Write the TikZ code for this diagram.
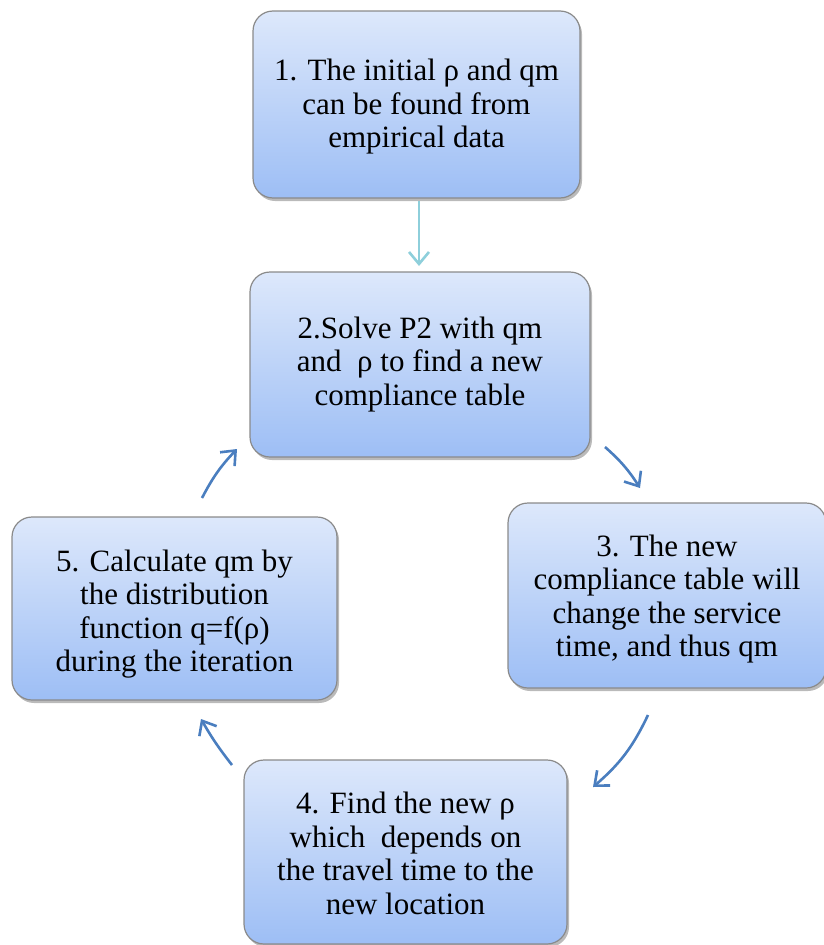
\documentclass[tikz,border=0pt]{standalone}
\usepackage{fontspec}
\setmainfont{Liberation Serif}
\newfontfamily\timesfont{Liberation Serif}
\usetikzlibrary{arrows.meta,shadows}
\definecolor{boxtop}{HTML}{DDE8FB}
\definecolor{boxbot}{HTML}{9DBEF5}
\definecolor{boxline}{HTML}{8A8A8A}
\definecolor{arrblue}{HTML}{4A7EBF}
\definecolor{arrteal}{HTML}{8ECFDB}
\newcommand\liftline[1]{\rule{0pt}{\dimexpr\fontcharht\font`\h+#1\relax}}
\tikzset{
  stepbox/.style={rectangle, rounded corners=20pt, draw=boxline, line width=1.2pt,
    top color=boxtop, bottom color=boxbot, align=center, inner sep=0pt,
    font=\timesfont\fontsize{31}{33.5}\selectfont,
    drop shadow={shadow xshift=2pt, shadow yshift=-3pt, opacity=0.45, fill=black!60}},
  flow/.style={draw=arrblue, line width=2.6pt, -{Straight Barb[length=12pt,width=20pt,line width=2.6pt]}},
  flowteal/.style={draw=arrteal, line width=2.6pt, -{Straight Barb[length=12pt,width=20pt,line width=2.6pt]}}
}
\begin{document}
\begin{tikzpicture}[x=1pt,y=-1pt]
\useasboundingbox (0,0) rectangle (824,945);
\node[stepbox, minimum width=327pt, minimum height=187pt] (b1) at (416.5,104.5)
  {\liftline{6pt}1. The initial ρ and qm\\can be found from\\empirical data};
\node[stepbox, minimum width=340pt, minimum height=185pt] (b2) at (420,364.5)
  {2.Solve P2 with qm\\and \ ρ to find a new\\compliance table};
\node[stepbox, minimum width=318pt, minimum height=185pt] (b3) at (667,595.5)
  {\liftline{8pt}3. The new\\compliance table will\\change the service\\time, and thus qm};
\node[stepbox, minimum width=323pt, minimum height=184pt] (b4) at (405.5,852)
  {\liftline{4pt}4. Find the new ρ\\which \ depends on\\the travel time to the\\new location};
\node[stepbox, minimum width=325pt, minimum height=183pt] (b5) at (174.5,608.5)
  {\liftline{12pt}5. Calculate qm by\\the distribution\\function q=f(ρ)\\during the iteration};
\coordinate (a1s) at (419,201);
\coordinate (a1e) at (419,266);
\coordinate (a2s) at (605,447);
\coordinate (a2e) at (640,488);
\coordinate (a3s) at (648,715);
\coordinate (a3e) at (593,787);
\coordinate (a4s) at (232,765);
\coordinate (a4e) at (201,719);
\coordinate (a5s) at (202,498);
\coordinate (a5e) at (237,449);
\draw[flowteal] (a1s) -- (a1e);
\draw[flow] (a2s) to[bend left=8] (a2e);
\draw[flow] (a3s) to[bend left=12] (a3e);
\draw[flow] (a4s) to[bend left=4] (a4e);
\draw[flow] (a5s) to[bend left=8] (a5e);
\end{tikzpicture}
\end{document}
